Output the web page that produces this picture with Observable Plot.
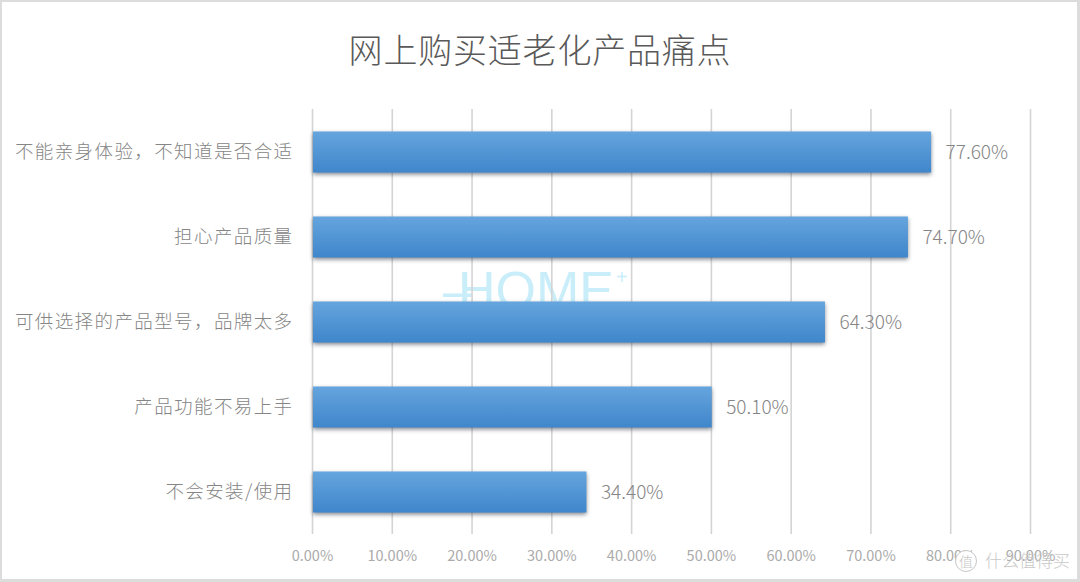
<!DOCTYPE html>
<html lang="zh">
<head>
<meta charset="utf-8">
<script src="https://cdn.jsdelivr.net/npm/d3@7"></script>
<script src="https://cdn.jsdelivr.net/npm/@observablehq/plot@0.6"></script>
<style>
  html, body { margin: 0; padding: 0; background: #fff; }
  body { width: 1080px; height: 582px; overflow: hidden; position: relative; font-family: "Noto Sans CJK SC", "Noto Sans", sans-serif; }
  #frame { position: absolute; left: 0; top: 0; width: 1075px; height: 577px; border: 2px solid #dcdcdc; border-right-width: 3px; border-bottom-width: 3px; }
  #title { position: absolute; left: 0; top: 0; width: 1080px; height: 108px; text-align: center; line-height: 98px; font-size: 34px; letter-spacing: 0.8px; font-weight: 300; color: #595959; }
  #chart { position: absolute; left: 0; top: 108px; }
  #chart svg { background: transparent; overflow: visible; }
  .bars rect { filter: drop-shadow(0 2px 2px rgba(50,60,75,.6)); }
  .cat text { letter-spacing: 1.4px; }
  #home { position: absolute; left: 443px; top: 260px; font-family: "Liberation Sans", sans-serif; font-size: 52px; color: #c9eefa; line-height: 60px; white-space: nowrap; }
  #home .dash { margin-right: -14px; }
  #home .plus { font-size: 20px; position: relative; top: -24px; left: 2px; }
  .wm { position: absolute; color: #c8c8c8; font-weight: 300; }
  #wm1 { left: 985px; top: 548px; font-size: 17px; line-height: 24px; white-space: nowrap; }
  #wm2 { left: 955px; top: 550px; width: 20px; height: 20px; border: 1px solid #c8c8c8; border-radius: 50%; font-size: 14px; line-height: 20px; text-align: center; background: #fff; }
</style>
</head>
<body>
<div id="frame"></div>
<div id="home"><span class="dash">–</span>HOME<span class="plus">+</span></div>
<div id="title">网上购买适老化产品痛点</div>
<div id="chart"></div>
<div class="wm" id="wm2">值</div>
<div class="wm" id="wm1">什么值得买</div>
<script>
const categories = ["不能亲身体验，不知道是否合适", "担心产品质量", "可供选择的产品型号，品牌太多", "产品功能不易上手", "不会安装/使用"];
const values = [0.776, 0.747, 0.643, 0.501, 0.344];
const xTicks = [0, 0.1, 0.2, 0.3, 0.4, 0.5, 0.6, 0.7, 0.8, 0.9];
const rows = categories.map((category, i) => ({category, value: values[i]}));
const pct = d3.format(".2%");

const gradient = () => {
  const svg = d3.create("svg:g");
  const g = svg.append("defs").append("linearGradient")
    .attr("id", "barGrad").attr("x1", 0).attr("y1", 0).attr("x2", 0).attr("y2", 1);
  g.append("stop").attr("offset", "0%").attr("stop-color", "#66a5de");
  g.append("stop").attr("offset", "100%").attr("stop-color", "#3f86cb");
  return svg.node();
};

const chart = Plot.plot({
  width: 1080,
  height: 474,
  marginLeft: 312,
  marginRight: 50,
  marginTop: 1,
  marginBottom: 48,
  style: {fontFamily: '"Noto Sans CJK SC", sans-serif', background: "transparent"},
  x: {domain: [0, 0.9], label: null},
  y: {domain: categories, label: null, paddingInner: 0.52, paddingOuter: 0.26},
  marks: [
    gradient,
    Plot.gridX(xTicks, {stroke: "#d4d4d4", strokeOpacity: 1, strokeWidth: 1.6}),
    Plot.axisX({ticks: xTicks, tickFormat: pct, tickSize: 0, tickPadding: 16, fontSize: 14.5, fill: "#ababab", label: null}),
    Plot.axisY({tickSize: 0, tickPadding: 19, fontSize: 18.5, fontWeight: 300, fill: "#858585", label: null, className: "cat"}),
    Plot.barX(rows, {x: "value", y: "category", fill: "url(#barGrad)", className: "bars", insetLeft: 1, dy: 0.5}),
    Plot.text(rows, {x: "value", y: "category", text: d => pct(d.value), textAnchor: "start", dx: 14, dy: 1, fontSize: 19, fontWeight: 300, fill: "#858585"})
  ]
});
document.getElementById("chart").appendChild(chart);
</script>
</body>
</html>
